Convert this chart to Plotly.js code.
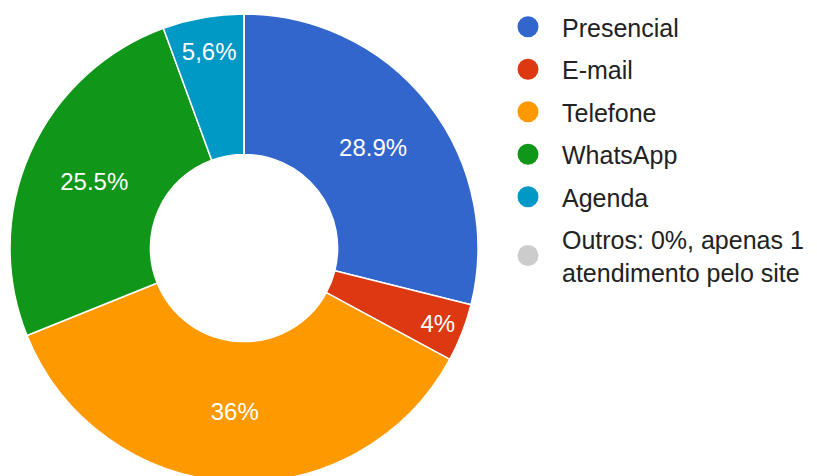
<!DOCTYPE html>
<html>
<head>
<meta charset="utf-8">
<script src="https://cdn.plot.ly/plotly-3.0.1.min.js"></script>
<style>html,body{margin:0;padding:0;overflow:hidden;background:#fff;}</style>
</head>
<body>
<div id="chart" style="width:817px;height:490px;"></div>
<script>
const categories = ["Presencial", "E-mail", "Telefone", "WhatsApp", "Agenda", "Outros"];
const legendLabels = ["Presencial", "E-mail", "Telefone", "WhatsApp", "Agenda", "Outros: 0%, apenas 1<br>atendimento pelo site"];
const values = [28.9, 4, 36, 25.5, 5.6, 0];
const sliceTexts = ["28.9%", "4%", "36%", "25.5%", "5,6%", ""];
const colors = ["#3366cc", "#dc3912", "#ff9900", "#109618", "#0099c6", "#cccccc"];

const W = 817, H = 490;
const font = "Arial, 'Liberation Sans', sans-serif";

const traces = [{
  type: "pie",
  labels: categories,
  values: values,
  text: sliceTexts,
  textinfo: "text",
  textposition: "inside",
  insidetextorientation: "horizontal",
  insidetextfont: {family: font, size: 24, color: "#ffffff"},
  hole: 0.4,
  sort: false,
  direction: "clockwise",
  rotation: 0,
  marker: {colors: colors, line: {color: "#ffffff", width: 1.5}},
  showlegend: false,
  hoverinfo: "label+percent",
  domain: {x: [10 / W, 478 / W], y: [(H - 482) / H, (H - 14) / H]}
}];

categories.forEach(function (c, i) {
  traces.push({
    type: "scatter",
    mode: "markers",
    x: [null], y: [null],
    name: legendLabels[i],
    legendgroup: "g" + i,
    marker: {symbol: "circle", size: 22, color: colors[i], line: {color: colors[i], width: 5}},
    showlegend: true,
    hoverinfo: "skip"
  });
});

const layout = {
  width: W, height: H,
  margin: {l: 0, r: 0, t: 0, b: 0},
  paper_bgcolor: "#ffffff",
  plot_bgcolor: "#ffffff",
  font: {family: font, size: 25, color: "#222222"},
  xaxis: {visible: false},
  yaxis: {visible: false},
  showlegend: true,
  legend: {
    x: 494 / W, y: (H - 4) / H,
    xanchor: "left", yanchor: "top",
    font: {family: font, size: 25, color: "#222222"},
    tracegroupgap: 7,
    traceorder: "grouped",
    itemwidth: 58,
    bgcolor: "rgba(0,0,0,0)"
  }
};

Plotly.newPlot("chart", traces, layout, {displayModeBar: false, staticPlot: true});
</script>
</body>
</html>
